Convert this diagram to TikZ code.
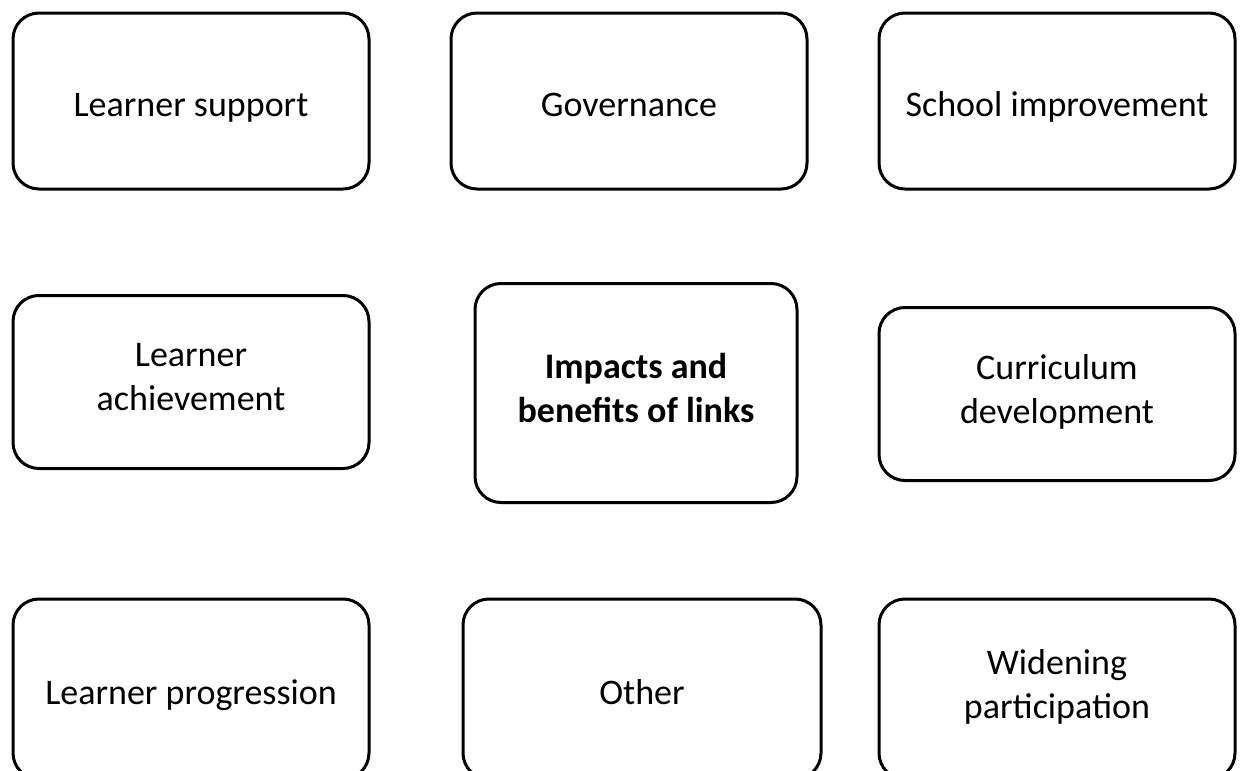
\documentclass[tikz,border=0pt]{standalone}
\usepackage{fontspec}
\setmainfont{Carlito}
\newcommand{\topicstrut}{\rule[-10pt]{0pt}{50pt}}
\tikzset{
    topic/.style={draw, line width=3pt, rounded corners=26pt, minimum width=356pt, minimum height=176pt, align=center, font=\fontsize{36}{44}\selectfont, inner sep=0pt, execute at begin node=\topicstrut, execute at end node=\topicstrut},
}
\begin{document}
\begin{tikzpicture}[x=1pt,y=-1pt]
        \useasboundingbox (0,0) rectangle (1243,771);

        \node[topic] (support) at (191,101) {Learner support}; %support
        \node[topic] (governance) at (629,101) {Governance}; %governance
        \node[topic] (improvement) at (1057,101) {School improvement}; %improvement

        \node[topic, minimum height=173pt] (achievement) at (191,382) {Learner\\achievement}; %achievement
        \node[topic, minimum width=322pt, minimum height=219pt, font=\fontsize{36}{44}\selectfont\bfseries] (impacts) at (636,393) {Impacts and\\benefits of links}; %centre
        \node[topic, minimum height=173pt] (curriculum) at (1057,394) {Curriculum\\development}; %curriculum

        \node[topic, minimum height=180pt] (progression) at (191,689) {Learner progression}; %progression
        \node[topic, minimum width=358pt, minimum height=180pt] (other) at (642,689) {Other}; %other
        \node[topic, minimum height=180pt] (widening) at (1057,689) {Widening\\participation}; %widening
    \end{tikzpicture}
\end{document}
